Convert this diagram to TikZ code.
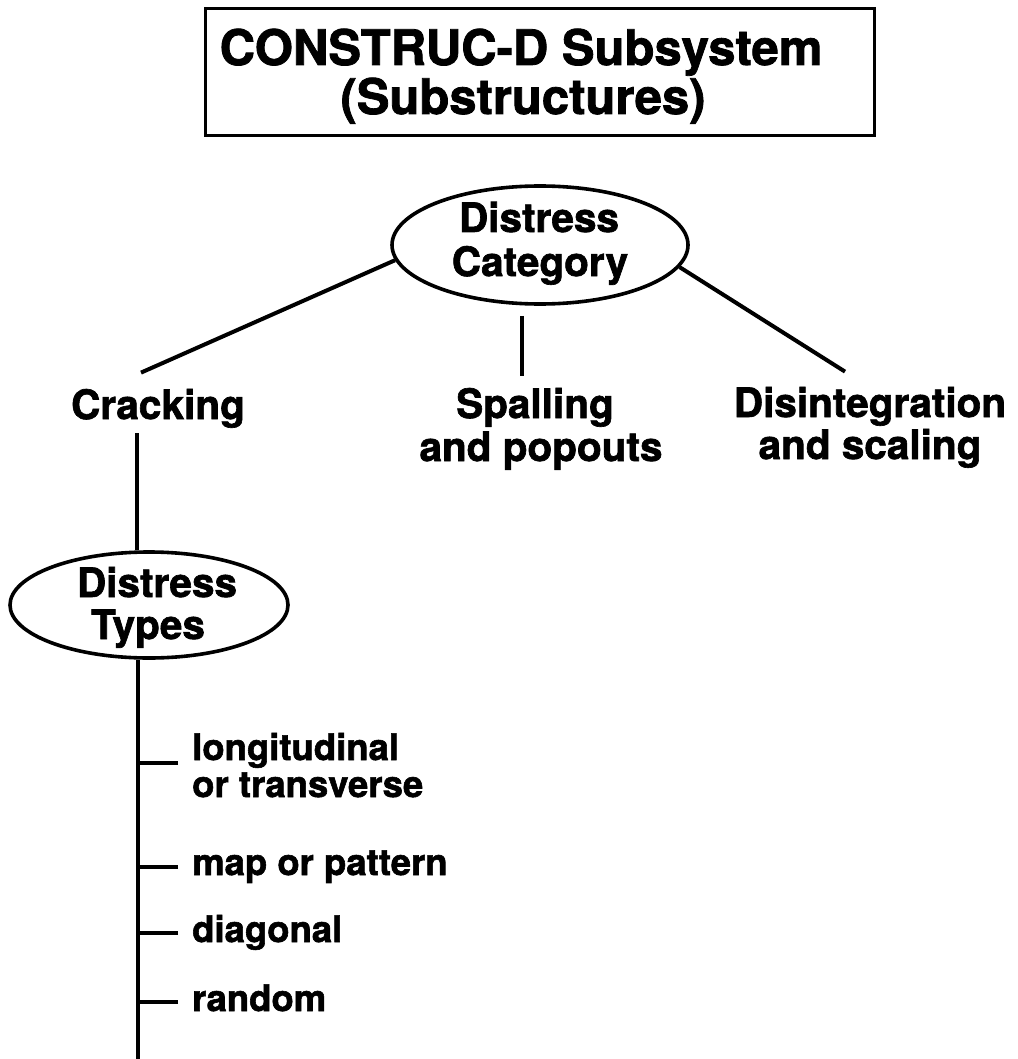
\documentclass[tikz,border=0pt]{standalone}
\usepackage{fontspec}
\setmainfont{TeX Gyre Heros}[BoldFeatures={FakeBold=1.6}]
\usetikzlibrary{shapes.geometric,calc}
\begin{document}
\begin{tikzpicture}[x=1pt,y=-1pt,
  conn/.style={line width=4pt},
  thinconn/.style={line width=3.2pt},
  tick/.style={line width=3.6pt},
  oval/.style={draw, ellipse, line width=3.6pt, inner sep=0pt},
  frame/.style={draw, line width=3pt, inner sep=0pt},
  head/.style={font=\fontsize{49}{50}\selectfont\bfseries, inner sep=0pt, anchor=base},
  cat/.style={font=\fontsize{40.5}{43}\selectfont\bfseries, inner sep=0pt, anchor=base},
  item/.style={font=\fontsize{36.5}{37}\selectfont\bfseries, inner sep=0pt, anchor=base west}]
\useasboundingbox (0,0) rectangle (1017,1059);

% title panel
\node[frame, minimum width=669pt, minimum height=127pt] (panel) at (539.5,72) {};
\node[head] (title1) at (521,65) {CONSTRUC-D Subsystem};
\node[head] (title2) at (523,114) {(Substructures)};

% distress category
\node[oval, minimum width=296pt, minimum height=118pt] (dcat) at (540,245) {};
\node[cat] (dcat1) at (539,232) {Distress};
\node[cat] (dcat2) at (540,276) {Category};

% the three categories
\node[cat] (crack) at (158,419) {Cracking};
\node[cat] (spall1) at (535,418) {Spalling};
\node[cat] (spall2) at (541,461) {and popouts};
\node[cat] (disint1) at (870,417) {Disintegration};
\node[cat] (disint2) at (870,459) {and scaling};

\draw[conn] (dcat.186) -- ($(crack.north)+(-17,-16)$);
\draw[thinconn] ($(dcat.south)+(-18,10)$) -- ($(spall1.north)+(-13,-12)$);
\draw[conn] (dcat.-9) -- ($(disint1.north)+(-25,-15)$);

% distress types under cracking
\node[oval, minimum width=278pt, minimum height=106pt] (dtype) at (149,605) {};
\node[cat] (dtype1) at (157,597) {Distress};
\node[cat] (dtype2) at (148,639) {Types};

\coordinate (cr) at ($(crack.south)+(-21,5)$);
\draw[thinconn] (cr) -- (cr |- dtype.north);

% trunk and the list of types
\coordinate (trunkend) at (138,1059);
\draw[conn] (dtype.south -| trunkend) -- (trunkend);

\node[item] (it1) at (192,760) {longitudinal};
\node[item] (it1b) at (192,797) {or transverse};
\node[item] (it2) at (192,875) {map or pattern};
\node[item] (it3) at (192,942) {diagonal};
\node[item] (it4) at (192,1011) {random};

\foreach \n/\dy in {it1/3, it2/-8, it3/-9, it4/-9}
  \draw[tick] ($(\n.base west)+(-14,\dy)$) coordinate (e) -- (e -| trunkend);
\end{tikzpicture}
\end{document}
